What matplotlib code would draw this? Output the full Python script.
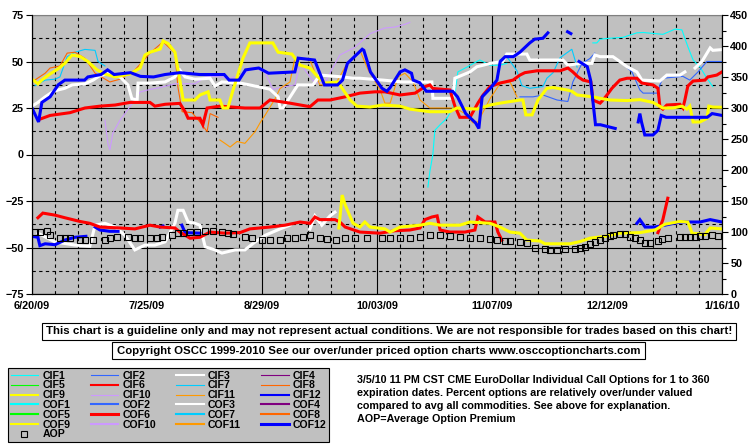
import numpy as np
import pandas as pd
import matplotlib
matplotlib.use("Agg")
import matplotlib.pyplot as plt
from matplotlib.lines import Line2D
from matplotlib.patches import Rectangle
from matplotlib.ticker import FixedLocator, MultipleLocator

nan = np.nan

# days are counted from the first date on the x axis
start_date = pd.Timestamp("2009-06-20")
n_days = 210

# ---- upper group (left axis, percent) ----
cif1_day = [120.5, 121.1, 122, 122.6, 124.2, 126.3, 128.1, 129.6, 132.4, 135.4, 136.3, 139.4, 142.4, 144.5,
            144.6, 170.7, 171.9, 172.9, 175.9, 179.9, 184.1, 186, 192, 195.7, 197.8, 199.6, 201.2, 203.3,
            205.4, 207.2]
cif1_val = [-17.5, -9, 0, 13, 16, 19.5, 25, 44.4, 47, 50, 50.8, 48, 48, 49,
            nan, 60, 60, 62, 62.5, 63, 65.4, 65.6, 64.6, 67.4, 67, 58, 50.8, 47,
            41, 36.5]

cif2_day = [148.5, 152.5, 155.5, 159.8, 163.1, 164.6, 167.4, 169.8, 171.3, 171.4, 179, 182.6, 185, 186,
            190.5, 191.1, 192, 198.1, 200.2, 202.7, 205.4, 210]
cif2_val = [31, 31, 32, 29.3, 28.5, 39, 49, 51.6, 54.5, nan, 50, 44.4, 34.7, 33,
            33, 37.4, 41, 42, 40, 44.4, 50, 50]

cif3_day = [0, 1.8, 4, 6.1, 7.9, 10, 12.2, 16.1, 18.6, 20.7, 23.7, 26.8, 29.2, 30.4, 32, 32.3, 35.9,
            40.5, 43.5, 45, 46.6, 49.6, 54.2, 55.7, 57.8, 63.3, 66.3, 72.4, 74.9, 75.5, 76.4, 80.9,
            85.5, 87.6, 94.6, 97.7, 99.8, 106.8, 112.9, 121.7, 122, 128.1, 128.7, 133.3, 135.4, 137.3,
            139.4, 143.3, 144.5, 150.6, 151.5, 161.6, 163.1, 166.8, 170.4, 171.3, 172.9, 176.8, 178.9,
            181.1, 184.1, 185.6, 191.1, 193.2, 197.2, 198.7, 199, 201.8, 203.9, 206.4, 207.2, 210]
cif3_val = [26, 28, 31, 33.5, 34.7, 35.6, 37.4, 38, 40, 42.5, 43.7, 41.7, 37.4, 30, 29.3, 38.4, 38.4,
            39, 41.7, 45.4, 41.7, 40.5, 41, 36.8, 39, 38.4, 37.4, 35.1, 31, 25, 25, 37.4,
            37.4, 42.7, 41.7, 41, 41, 40, 39, 39, 30.2, 30.2, 41, 44.4, 47.2, 48,
            49, 50, 54, 54, 50.8, 50.8, 48, 49, 49, 53.5, 52.6, 52.6, 50,
            47.2, 44.4, 40, 39.5, 42.7, 42.7, 44.4, nan, 46.5, 50, 57.3, 56, 56.4]

cif6_day = [2.4, 5.5, 11.6, 16.1, 20.7, 25.3, 29.8, 35.9, 37.4, 40.5, 45, 46.6, 47.5, 51.1, 52, 53.3,
            57.2, 64.8, 69.4, 72.4, 78.5, 84.6, 87, 90.7, 95.3, 99.8, 104.4, 107.4, 112, 116.6, 119.6,
            121.1, 122, 127.2, 128.7, 130.2, 133.3, 135.7, 137.3, 139.4, 142.4, 146.4, 148.5, 150,
            153.7, 160.7, 163.1, 164.6, 166.2, 167.7, 170.1, 170.7, 172.9, 173.8, 175, 176.5, 178.9,
            181.1, 184.1, 185.6, 189, 190.5, 191.1, 192, 193.2, 197.2, 198.1, 198.7, 199.6, 201.2,
            204.8, 205.7, 208.4, 210]
cif6_val = [19, 21, 22.5, 25, 26, 26.6, 28, 28, 26, 27, 27.5, 23, 19.5, 19.5, 16, 25,
            26, 25, 25, 29.3, 27.6, 25.7, 29.3, 29.3, 31, 33, 33.7, 33.7, 32, 33, 36.5,
            37.4, 35.5, 34.7, 26, 20, 20, 27.6, 32, 36.5, 38.4, 40, 42.7, 44,
            45, 45, 46.5, 44.4, 41.7, 40, 39, 29.3, 27.6, 29.3, 32, 35.6, 40,
            41, 41, 38.4, 37.4, 35.6, 25.7, 24.4, 26.6, 27, 25, 29.3, 36.8, 39.5,
            40, 41.7, 42.7, 44.4]

cif7_day = [0.9, 4, 7, 8.5, 10.7, 13.1, 16.1, 19.2, 20.1, 22.2, 22.3,
            142.4, 144.5, 147.6, 149.1, 151.5, 155.5, 156.7, 158.6, 160.7, 164.3, 165.9]
cif7_val = [37, 40, 40.5, 41.7, 52.6, 55, 56.5, 56, 50, 47.6, nan,
            50.8, 52.6, 45, 37, 35.6, 36.5, 41, 44, 52, 56.6, 47]

cif8_day = [0, 4, 5.5, 8.5, 10.7, 13.1, 16.1, 19.2, 23.7, 26.8, 31.3, 35.9, 39.9, 43.5, 44.4, 45.7,
            48.7, 51.1, 53.3, 54.2, 56.6]
cif8_val = [39, 43.7, 46.5, 47.6, 54.5, 55, 51.7, 43.7, 39, 40.5, 45.4, 54.5, 60.6, 54.5, 36.3, 23,
            22.5, 17.5, 12.3, 22, 20]

cif9_day = [0, 1.8, 3.3, 5.5, 7.9, 10, 12.2, 14.6, 17, 19.8, 22.2, 25.3, 29.8, 32.9, 34.4, 35.9, 39,
            39.9, 41.4, 43.5, 45, 46, 49.6, 51.1, 53.6, 54.2, 57.2, 58.1, 59.6, 61.2, 64.2, 66.3, 73.3,
            74.9, 79.1, 81.6, 84.6, 87, 89.2, 93.1, 94.4, 96.8, 98.9, 102.9, 106.8, 112, 115, 121.1,
            127.2, 129.3, 135.4, 139.4, 142.4, 148.5, 149.4, 150.3, 152.2, 154, 156.7, 158.6, 162.8,
            164.3, 165.9, 170.7, 172.9, 175.9, 181.1, 185, 189, 192, 195.1, 197.8, 199.3, 200.2,
            201.2, 203.3, 205.4, 206, 207.2, 210]
cif9_val = [40.5, 38, 40.5, 43.3, 46, 49, 53.5, 52.7, 50, 45.5, 43.3, 41.7, 43.3, 46.5, 53.5, 55, 56.7,
            61, 59.7, 55, 40, 29.3, 29.3, 32, 33.7, 29.3, 29.3, 25, 25, 34.7, 51.7, 60, 60,
            55, 54, 48, 46.5, 41.7, 38.4, 39, 35.6, 29.3, 26, 25.5, 26.6, 26, 24.4, 23,
            23, 25, 24.4, 26.6, 27.6, 29.3, 29.3, 21.3, 21.3, 29.3, 35.6, 36, 34.7,
            34, 32, 31, 30.2, 29.3, 29, 29.5, 28, 25, 25, 26, 24.4, 26,
            17.5, 17.5, 19.4, 26, 25.5, 25.4]

cif10_day = [22.2, 23.1, 23.7, 24.6, 26.8, 29.8, 32.9, 35.9, 39, 43.5, 49.6, 52.7, 55.7, 60.3, 64.8,
             66.9, 70.9, 73.3, 75.5, 80, 81.6, 86.1, 89.2, 93.7, 98.3, 102.9, 107.4, 110.4, 113.5, 115]
cif10_val = [18.5, 6, 2.4, 11.5, 18.5, 25.7, 33.6, 35, 36, 38, 38, 41.7, 42, 41, 43.5,
             47, 44.4, 35, 36, 37.4, 48.8, 38.4, 39, 53.5, 57.7, 65, 68, 68.5, 70, 71]

cif11_day = [57.2, 58.7, 60.3, 62.4, 64.8, 67.9, 69.4, 70.9, 74, 75.5, 78.5, 80, 84.6, 87.6, 92.2,
             95.3, 99.8, 102.3, 105.9, 107.4, 109, 111.4, 113.5, 116, 118.1, 121.1, 128.7, 131.8,
             134.2, 135.7, 139.4, 142.4, 145.5, 147.6]
cif11_val = [7.8, 6, 4, 7, 6, 12.3, 17, 21, 30, 35.5, 39, 51.7, 50.8, 37.4, 37.4,
             47, 56, 45.5, 35, 27.6, 27.6, 41.7, 43.7, 39, 29.3, 25, 25, 22,
             17, 17.5, 30, 38, 39, 31]

cif12_day = [0, 2, 3, 5.5, 8, 10, 16, 17, 21, 23, 25, 30, 33, 37, 40.5, 45, 51, 58.5, 60, 63, 65, 69,
             72, 80, 81, 86, 89, 93, 94.5, 96, 100.5, 101, 103, 106.5, 108, 109, 112, 113.5, 115.5,
             116, 118, 120, 128, 129.5, 132, 135, 136, 137, 139.5, 141.5, 142.5, 144, 146.5, 148.5,
             151.5, 153, 155.5, 157, 158, 163, 164, 165, 166.5, 169, 170, 171, 171.5, 173, 177.5,
             178, 184.5, 185, 185.5, 186.5, 189, 190.5, 191.5, 193, 205.5, 207, 210]
cif12_val = [25, 17.5, 28, 31, 37.5, 40, 40, 41.7, 43, 45.5, 43, 44, 42, 41.7, 43, 44, 43, 43, 40, 40,
             45.5, 46.5, 43.7, 44.4, 51.8, 50.8, 37.4, 37.4, 40, 49, 56.6, 56, 44.4, 35.6, 34, 36,
             44.4, 45.5, 43.7, 40, 38.6, 34, 34, 31, 22, 17, 14, 31, 35.6, 40, 50, 52.6, 52.6, 55,
             60, 62, 62.5, 65.4, nan, 66, 65, nan, 50, 47.2, 40, 24, 16, 16, 14,
             nan, 17.5, 22, 17.5, 10.5, 10.5, 13, 21, 20, 20, 22, 21]

# ---- lower group (left axis, percent) ----
cof3_day = [1.8, 7, 13.1, 17.6, 19.2, 22.2, 25.3, 28.3, 31.3, 34.4, 37.4, 40.5, 43.5, 44.4, 46, 47.5,
            49.6, 51.1, 52.7, 55.7, 57.8, 61.8, 64.8, 67.9, 70.9, 75.5, 78.5, 80, 84.6, 86.1, 88.2,
            90.7, 92.2]
cof3_val = [-42.3, -47, -48.7, -49.3, -38, -37, -39, -43.5, -51.3, -48.7, -48.7, -47, -37, -30, -30,
            -36.3, -37, -38, -49.6, -51.3, -53, -51.3, -51.3, -47, -43.5, -40, -38, nan, -40, -33,
            -38, -33, -31]

cof6_day = [1.8, 3.3, 7, 10, 14.6, 17.6, 20.7, 26.8, 31.3, 35.9, 39, 43.5, 45, 48.1, 51.1, 54.2, 58.7,
            63.3, 66.3, 72.4, 77, 81.6, 84.6, 86.1, 87.6, 92.2, 93.7, 95.3, 99.8, 105.9, 110.4, 115,
            118.1, 119.6, 121.7, 123.3, 124.2, 127.2, 131.8, 134.8, 135.7, 137.9, 139.4, 140.9,
            141.8, 143, 144, 190.5, 192, 193.5]
cof6_val = [-34, -31.5, -32.6, -34, -36, -37, -39, -39.5, -40, -38, -39, -39.5, -41.7, -45, -44.5,
            -41.7, -42.3, -42, -40, -39, -38, -36.3, -37, -33.6, -35, -35, -36.3, -39, -41.7, -42.3,
            -41, -40.6, -39.5, -35, -33.6, -33, -40.6, -41.7, -41.7, -40.6, -33.6, -36.3, -36.3,
            -36.3, -41.7, -46, nan, -42, -35, -23.5]

cof9_day = [93.4, 94.4, 95.3, 97.7, 99.8, 101.3, 102.9, 107.4, 109, 112, 118.1, 121.1, 124.2, 130.2,
            133.3, 139.4, 142.4, 145.5, 148.5, 150.6, 154.6, 156.1, 163.7, 166.8, 169.8, 174.4,
            178.9, 185, 189.6, 192.6, 197.2, 199.6, 200.9, 204.8, 206.4, 210]
cof9_val = [-39.5, -21.8, -27, -37, -39, -36.3, -39, -40, -41.7, -39, -38, -37, -38, -38,
            -36.3, -37, -39, -41.7, -42.3, -46, -46.5, -48, -48, -46.8, -45, -44,
            -42.3, -42, -40.6, -37.5, -36, -36.3, -42.3, -43, -39.5, -40]

cof12_day = [0, 1.8, 2.4, 4, 7, 10, 13.1, 16.4, 17, 19.2, 20.7, 23.7, 26.2, 30, 39, 39.9, 42,
             45.6, 46.6, 51.1, 100, 184.1, 185, 186.6, 189.6, 192.6, 197.2, 203.3, 206.4, 210]
cof12_val = [-44, -44.5, -49, -48, -48.5, -46, -44.5, -44, nan, -39, -40.6, -41.3, -41.3, nan, -39,
             -38.5, nan, -38, -42, -42.3, nan, -37, -35, -39, -39, -38, -36.3, -36.3, -35, -36.3]

# ---- average option premium (right axis) ----
aop_day = [0.9, 2.4, 4.6, 5.5, 8.5, 10, 11.6, 14.6, 16.1, 18.6, 22.2, 23.7, 25.9, 29.2, 31.3, 32.9,
           35.9, 38, 39.6, 42.6, 44.4, 46, 48.1, 50.2, 52.7, 55.1, 57.8, 59.6, 61.2, 64.8, 67, 70,
           72.4, 75.5, 77.6, 80, 82.5, 84.6, 87.6, 89.8, 92.5, 95.3, 98.3, 101.9, 106.5, 109, 112,
           115, 118.1, 121.1, 124.2, 127.2, 130.2, 133.3, 136.3, 139.4, 141.5, 143.9, 145.5, 148.5,
           150.6, 153.1, 156.1, 157.6, 159.8, 162.2, 165.3, 166.8, 168.3, 169.8, 171.3, 172.9,
           174.4, 175.9, 176.8, 178.9, 180.4, 182, 183.5, 185, 186.6, 188.1, 190.5, 191.7, 193.5,
           197.2, 198.7, 200.2, 201.8, 203.3, 204.8, 207, 208.8]
aop_val = [100, 100, 101.6, 95, 90, 90, 90, 87, 87, 87, 87, 90, 92, 92, 90, 90,
           90, 90, 92, 95, 98, 98, 100, 100, 102, 101.6, 100, 98, 96, 92, 90, 87,
           87, 87, 90, 90, 92, 95, 90, 89, 87, 90, 91, 91, 91, 90, 90,
           91, 92, 95, 95, 94, 92, 91, 90, 89, 87, 86, 85.5, 84,
           82, 74, 72.5, 71, 71, 72.5, 72.5, 74, 76, 80, 84, 87,
           90, 93.5, 95, 96, 96, 92, 90, 87, 82, 82, 86, 89, 90,
           92, 92, 92, 92, 93.5, 93.5, 95, 93.5]

legend_names = ["CIF%d" % i for i in range(1, 13)] + ["COF%d" % i for i in range(1, 13)]
palette = ["#00FFFF", "#3366FF", "#FFFFFF", "#800080", "#00FF00", "#FF0000",
           "#00CCFF", "#FF6600", "#FFFF00", "#CC99FF", "#FF9900", "#0000FF"]

plt.rcParams["font.family"] = ["Liberation Sans", "DejaVu Sans"]
plt.rcParams["font.weight"] = "bold"
plt.rcParams["font.size"] = 7.5

fig = plt.figure(figsize=(7.55, 4.46), dpi=100)
ax = fig.add_axes([32 / 755, 1 - 294 / 446, 690 / 755, 279 / 446])
ax.set_facecolor("#C0C0C0")

thick, thin = 2.2, 0.8
series = [
    ("CIF1", cif1_day, cif1_val, thin),
    ("CIF2", cif2_day, cif2_val, thin),
    ("CIF7", cif7_day, cif7_val, thin),
    ("CIF8", cif8_day, cif8_val, thin),
    ("CIF10", cif10_day, cif10_val, thin),
    ("CIF11", cif11_day, cif11_val, thin),
    ("CIF3", cif3_day, cif3_val, thick),
    ("CIF6", cif6_day, cif6_val, thick),
    ("CIF9", cif9_day, cif9_val, thick),
    ("CIF12", cif12_day, cif12_val, thick),
    ("COF3", cof3_day, cof3_val, thick),
    ("COF12", cof12_day, cof12_val, thick),
    ("COF6", cof6_day, cof6_val, thick),
    ("COF9", cof9_day, cof9_val, thick),
]
for name, days, vals, lw in series:
    color = palette[(int(name[3:]) - 1)]
    ax.plot(days, vals, color=color, lw=lw, solid_joinstyle="miter")

ax.set_xlim(0, n_days)
ax.set_ylim(-75, 75)
major_days = np.arange(0, n_days + 1, 35)
tick_dates = [start_date + pd.Timedelta(days=int(d)) for d in major_days]
ax.xaxis.set_major_locator(FixedLocator(major_days))
ax.xaxis.set_minor_locator(MultipleLocator(7))
ax.set_xticklabels([f"{d.month}/{d.day:02d}/{d.year % 100:02d}" for d in tick_dates])
ax.yaxis.set_major_locator(MultipleLocator(25))
ax.yaxis.set_minor_locator(MultipleLocator(12.5))
ax.set_axisbelow(True)
ax.grid(which="major", color="black", lw=0.8, ls="-")
ax.grid(which="minor", color="black", lw=0.8, ls=(0, (3, 3)))
ax.tick_params(axis="y", which="major", length=4, width=0.8, pad=2, labelsize=7.8)
ax.tick_params(axis="both", which="minor", length=0)
ax.tick_params(axis="x", which="major", length=0, pad=5, labelsize=7.8)
ax.spines["top"].set_color("#808080")
for s in ("left", "bottom", "right"):
    ax.spines[s].set_linewidth(0.8)

ax2 = ax.twinx()
ax2.plot(aop_day, aop_val, ls="none", marker="s", ms=5, mfc="none", mec="black", mew=0.8)
ax2.set_ylim(0, 450)
ax2.yaxis.set_major_locator(MultipleLocator(50))
ax2.yaxis.set_minor_locator(MultipleLocator(25))
ax2.tick_params(axis="y", which="major", length=4, width=0.8, pad=2, labelsize=7.8)
ax2.tick_params(axis="y", which="minor", length=3, width=0.8)
ax2.spines["top"].set_visible(False)

# legend, laid out row by row like the original (matplotlib fills by column)
handles = {}
for i, name in enumerate(legend_names):
    num = int(name[3:])
    if name.startswith("CIF"):
        lw = 1.5 if num in (3, 6, 9, 12) else 0.8
    else:
        lw = 2.2 if num in (6, 12) else 1.5
    handles[name] = Line2D([], [], color=palette[num - 1], lw=lw)
handles["AOP"] = Line2D([], [], ls="none", marker="s", ms=5, mfc="none", mec="black", mew=0.8)
order = ["CIF1", "CIF5", "CIF9", "COF1", "COF5", "COF9", "AOP",
         "CIF2", "CIF6", "CIF10", "COF2", "COF6", "COF10",
         "CIF3", "CIF7", "CIF11", "COF3", "COF7", "COF11",
         "CIF4", "CIF8", "CIF12", "COF4", "COF8", "COF12"]
leg = fig.legend([handles[n] for n in order], order, loc="lower left", ncol=4,
                 bbox_to_anchor=(8 / 755, 1 - 442 / 446, 321 / 755, 74 / 446), mode="expand",
                 borderaxespad=0, frameon=True, fancybox=False, facecolor="#C0C0C0",
                 edgecolor="black", framealpha=1, handlelength=2.6, handletextpad=0.4,
                 labelspacing=-0.02, borderpad=0.25, fontsize=7.6)
leg.get_frame().set_linewidth(0.8)

# notice boxes under the chart
fig.patches.append(Rectangle((42 / 755, 1 - 340 / 446), 694 / 755, 17 / 446, transform=fig.transFigure,
                             facecolor="white", edgecolor="black", lw=0.8))
fig.text(389 / 755, 1 - 331.5 / 446,
         "This chart is a guideline only and may not represent actual conditions. "
         "We are not responsible for trades based on this chart!", ha="center", va="center",
         fontsize=8.25)
fig.patches.append(Rectangle((112 / 755, 1 - 359 / 446), 533 / 755, 17 / 446, transform=fig.transFigure,
                             facecolor="white", edgecolor="black", lw=0.8))
fig.text(378.5 / 755, 1 - 350.5 / 446,
         "Copyright OSCC 1999-2010 See our over/under priced option charts www.osccoptioncharts.com",
         ha="center", va="center", fontsize=8.2)

fig.text(357 / 755, 1 - 375 / 446,
         "3/5/10 11 PM CST CME EuroDollar Individual Call Options for 1 to 360\n"
         "expiration dates. Percent options are relatively over/under valued\n"
         "compared to avg all commodities. See above for explanation.\n"
         "AOP=Average Option Premium", ha="left", va="top", linespacing=1.38, fontsize=7.75)

fig.savefig("out.png", dpi=100)
